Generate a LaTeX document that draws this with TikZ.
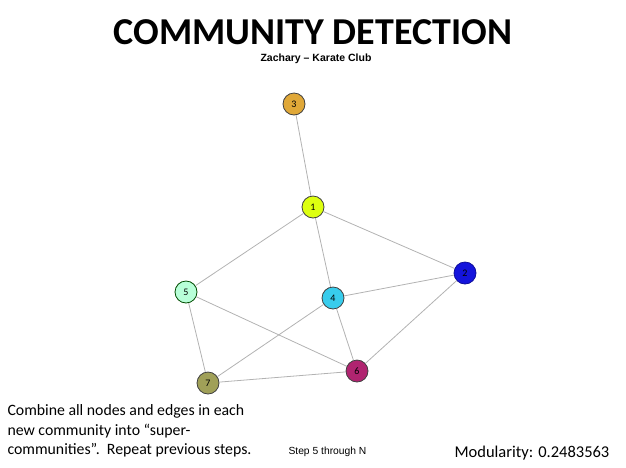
\documentclass[tikz,border=0pt]{standalone}
\usepackage{fontspec}
\setmainfont{Carlito}
\newfontfamily\arialfont{Liberation Sans}
\usepackage{xcolor}
\usetikzlibrary{positioning}

\definecolor{c3}{HTML}{E0A838}
\definecolor{c1}{HTML}{DDFF10}
\definecolor{c2}{HTML}{1414DC}
\definecolor{c5}{HTML}{B8FFD8}
\definecolor{c4}{HTML}{38CCEC}
\definecolor{c6}{HTML}{B02470}
\definecolor{c7}{HTML}{A0A058}

\begin{document}
\begin{tikzpicture}[
  x=1pt, y=-1pt,
  vertex/.style={circle, draw=black!75, thick, minimum size=22pt, inner sep=0pt, font=\rmfamily\fontsize{10}{10}\selectfont},
  edge/.style={draw=black!30, line width=0.8pt}
]
  \useasboundingbox (0,0) rectangle (626,467);

  % Titles
  \node[anchor=base, inner sep=0pt, font=\bfseries\fontsize{38}{38}\selectfont] (title) at (313,44) {COMMUNITY DETECTION};
  \node[anchor=base, inner sep=0pt, font=\arialfont\bfseries\fontsize{10.5}{10.5}\selectfont] (subtitle) at (316,61) {Zachary – Karate Club};

  % Nodes
  \node[vertex, fill=c3] (N3) at (294,104) {3};
  \node[vertex, fill=c1] (N1) at (313,207) {1};
  \node[vertex, fill=c2, draw=c2!70!black] (N2) at (465,273) {2};
  \node[vertex, fill=c5, draw=green!30!black] (N5) at (186,292) {5};
  \node[vertex, fill=c4] (N4) at (333,298) {4};
  \node[vertex, fill=c6] (N6) at (357,371) {6};
  \node[vertex, fill=c7] (N7) at (208,383) {7};

  % Edges
  \draw[edge] (N3) -- (N1);
  \draw[edge] (N1) -- (N5);
  \draw[edge] (N1) -- (N4);
  \draw[edge] (N1) -- (N2);
  \draw[edge] (N5) -- (N7);
  \draw[edge] (N5) -- (N6);
  \draw[edge] (N4) -- (N2);
  \draw[edge] (N4) -- (N7);
  \draw[edge] (N4) -- (N6);
  \draw[edge] (N2) -- (N6);
  \draw[edge] (N7) -- (N6);

  % Captions
  \node[anchor=west, align=left, font=\fontsize{15.8}{19.5}\selectfont] (combine) at (4,431)
    {Combine all nodes and edges in each\\new community into “super-\\communities”.\ \ Repeat previous steps.};
  \node[anchor=west, font=\arialfont\fontsize{10.3}{10.3}\selectfont] (step) at (285,452) {Step 5 through N};
  \node[anchor=west, font=\fontsize{16.5}{16.5}\selectfont] (modularity) at (451,453) {Modularity: 0.2483563};

\end{tikzpicture}
\end{document}
